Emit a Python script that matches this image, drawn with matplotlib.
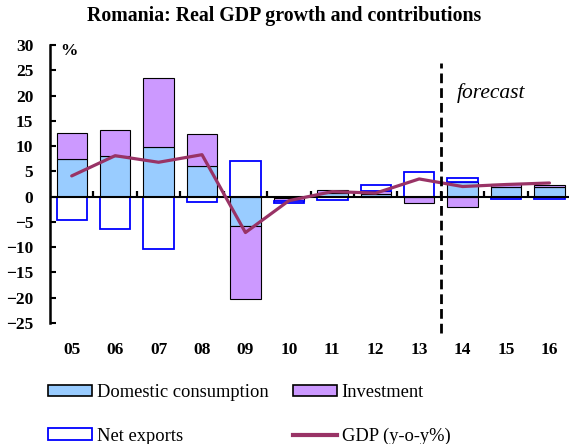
import numpy as np
import matplotlib
matplotlib.use("Agg")
import matplotlib.pyplot as plt
from matplotlib.patches import Patch
from matplotlib.lines import Line2D

years = ["05", "06", "07", "08", "09", "10", "11", "12", "13", "14", "15", "16"]
domestic = [7.5, 8.0, 9.9, 6.0, -5.9, -0.2, 0.7, 0.6, 0.0, 2.8, 1.9, 1.9]
investment = [5.0, 5.1, 13.6, 6.3, -14.4, -0.7, 0.7, 0.6, -1.2, -2.1, 0.6, 0.4]
net_exports = [-4.6, -6.5, -10.3, -1.1, 7.0, -0.4, -0.6, 1.2, 4.8, 0.8, -0.5, -0.5]
gdp = [4.1, 8.1, 6.8, 8.3, -7.1, -0.8, 1.0, 0.7, 3.5, 2.0, 2.4, 2.7]
forecast_start = 8.5  # boundary between 13 and 14

FONT = "Liberation Serif"
plt.rcParams["font.family"] = [FONT, "DejaVu Serif"]

fig = plt.figure(figsize=(5.69, 4.44), dpi=100)
ax = fig.add_axes([50 / 569, 1 - 323 / 444, (569 - 50) / 569, (323 - 45) / 444])

x = np.arange(len(years))
w = 0.7
series = [
    (domestic, "#99CCFF", "black", 0.8, "Domestic consumption"),
    (investment, "#CC99FF", "black", 0.8, "Investment"),
    (net_exports, "white", "#0000FF", 1.3, "Net exports"),
]
pos_base = np.zeros(len(years))
neg_base = np.zeros(len(years))
for vals, fc, ec, lw, lab in series:
    v = np.array(vals, dtype=float)
    base = np.where(v >= 0, pos_base, neg_base)
    ax.bar(x, v, width=w, bottom=base, color=fc, edgecolor=ec, linewidth=lw, zorder=2)
    pos_base = pos_base + np.where(v >= 0, v, 0)
    neg_base = neg_base + np.where(v < 0, v, 0)

ax.axhline(0, color="black", lw=1.5, zorder=3)
ax.vlines(np.arange(len(years) + 1) - 0.5, 0, 1.2, color="black", lw=1.6, zorder=1)
ax.plot(x, gdp, color="#993366", lw=2.3, zorder=4, solid_capstyle="round")

ax.plot([forecast_start, forecast_start], [-27, 26.5], color="black", lw=2,
        linestyle=(0, (3.5, 1.8)), clip_on=False, zorder=5)
ax.text(forecast_start + 0.36, 20.4, "forecast", fontsize=15.5, style="italic",
        family=FONT, ha="left", va="center")

ax.set_xlim(-0.5, 11.45)
ax.set_ylim(-25, 30)
ax.set_yticks(np.arange(-25, 31, 5))
ax.set_xticks(x)
ax.set_xticklabels(years, fontweight="bold", fontsize=12.5)
ax.tick_params(axis="x", length=0, pad=14)
ax.tick_params(axis="y", direction="in", length=4, width=1.5, pad=12,
               labelsize=12.5)
for lbl in ax.get_yticklabels():
    lbl.set_fontweight("bold")
for s in ["top", "right", "bottom"]:
    ax.spines[s].set_visible(False)
ax.spines["left"].set_linewidth(1.8)
ax.text(0.02, 0.978, "%", transform=ax.transAxes, fontsize=12.5,
        fontweight="bold", ha="left", va="center")

fig.text(0.5, 1 - 16 / 444, "Romania: Real GDP growth and contributions",
         ha="center", va="center", fontsize=14.3, fontweight="bold")

handles = [
    Patch(facecolor="#99CCFF", edgecolor="black", linewidth=1.2),
    Patch(facecolor="white", edgecolor="#0000FF", linewidth=1.3),
    Patch(facecolor="#CC99FF", edgecolor="black", linewidth=1.2),
    Line2D([0], [0], color="#993366", lw=3),
]
labels = ["Domestic consumption", "Net exports", "Investment", "GDP (y-o-y%)"]
fig.legend(handles, labels, ncol=2, loc="upper left",
           bbox_to_anchor=(48 / 569, 1 - 384 / 444), frameon=False,
           fontsize=13.3, handlelength=2.4, handleheight=0.6,
           handletextpad=0.25, columnspacing=1.3, labelspacing=1.45,
           borderpad=0, borderaxespad=0)

fig.savefig("out.png", dpi=100)
